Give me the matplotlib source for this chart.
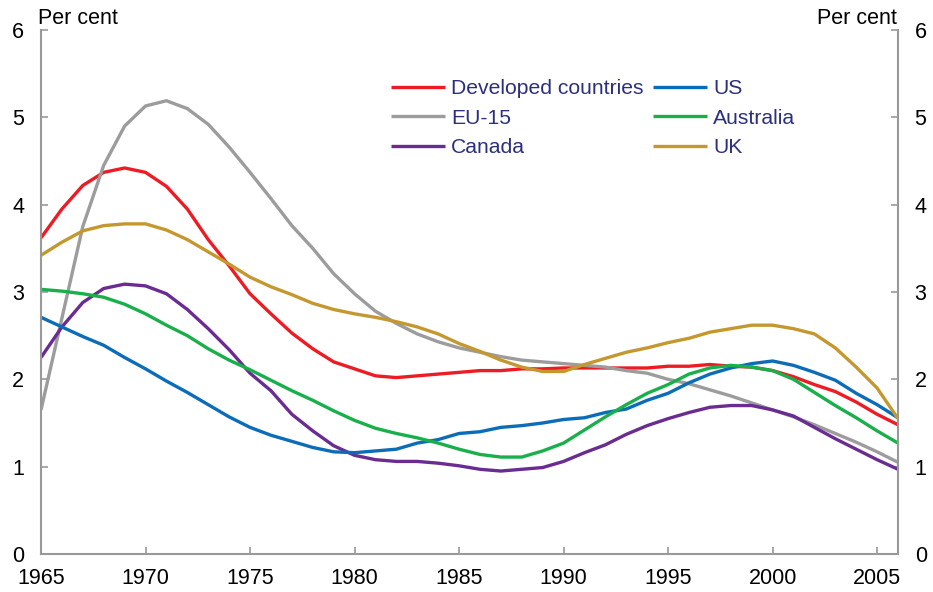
import matplotlib
matplotlib.use("Agg")
import matplotlib.pyplot as plt
import numpy as np

plt.rcParams["font.family"] = ["Liberation Sans", "DejaVu Sans"]

years = np.arange(1965, 2007)

developed = [3.62, 3.95, 4.22, 4.37, 4.42, 4.37, 4.21, 3.95, 3.60, 3.30,
             2.98, 2.75, 2.53, 2.35, 2.20, 2.12, 2.04, 2.02, 2.04, 2.06,
             2.08, 2.10, 2.10, 2.12, 2.12, 2.13, 2.13, 2.13, 2.13, 2.13,
             2.15, 2.15, 2.17, 2.15, 2.14, 2.10, 2.03, 1.94, 1.86, 1.74,
             1.60, 1.48]
eu15 = [1.65, 2.70, 3.75, 4.45, 4.90, 5.13, 5.19, 5.10, 4.92, 4.66,
        4.37, 4.07, 3.76, 3.50, 3.21, 2.98, 2.78, 2.64, 2.52, 2.43,
        2.36, 2.31, 2.26, 2.22, 2.20, 2.18, 2.16, 2.14, 2.10, 2.07,
        2.00, 1.95, 1.88, 1.81, 1.73, 1.65, 1.57, 1.48, 1.38, 1.28,
        1.17, 1.05]
canada = [2.25, 2.60, 2.88, 3.04, 3.09, 3.07, 2.98, 2.80, 2.58, 2.34,
          2.07, 1.87, 1.60, 1.41, 1.24, 1.13, 1.08, 1.06, 1.06, 1.04,
          1.01, 0.97, 0.95, 0.97, 0.99, 1.06, 1.16, 1.25, 1.37, 1.47,
          1.55, 1.62, 1.68, 1.70, 1.70, 1.65, 1.58, 1.45, 1.32, 1.20,
          1.08, 0.97]
us = [2.71, 2.60, 2.49, 2.39, 2.25, 2.12, 1.98, 1.85, 1.71, 1.57,
      1.45, 1.36, 1.29, 1.22, 1.17, 1.16, 1.18, 1.20, 1.27, 1.31,
      1.38, 1.40, 1.45, 1.47, 1.50, 1.54, 1.56, 1.62, 1.66, 1.76,
      1.84, 1.96, 2.06, 2.13, 2.18, 2.21, 2.16, 2.08, 1.99, 1.84,
      1.71, 1.56]
australia = [3.03, 3.01, 2.98, 2.94, 2.86, 2.75, 2.62, 2.50, 2.35, 2.22,
             2.11, 1.99, 1.87, 1.76, 1.64, 1.53, 1.44, 1.38, 1.33, 1.27,
             1.20, 1.14, 1.11, 1.11, 1.18, 1.27, 1.42, 1.57, 1.71, 1.84,
             1.94, 2.06, 2.13, 2.16, 2.14, 2.10, 2.00, 1.85, 1.70, 1.56,
             1.41, 1.27]
uk = [3.42, 3.57, 3.70, 3.76, 3.78, 3.78, 3.71, 3.60, 3.46, 3.32,
      3.17, 3.06, 2.97, 2.87, 2.80, 2.75, 2.71, 2.66, 2.60, 2.52,
      2.41, 2.32, 2.22, 2.14, 2.09, 2.09, 2.17, 2.24, 2.31, 2.36,
      2.42, 2.47, 2.54, 2.58, 2.62, 2.62, 2.58, 2.52, 2.36, 2.14,
      1.90, 1.55]

series = [
    ("Developed countries", developed, "#ed1c24"),
    ("EU-15", eu15, "#9c9c9c"),
    ("Canada", canada, "#6a2c91"),
    ("US", us, "#0b6cb8"),
    ("Australia", australia, "#19b04b"),
    ("UK", uk, "#c4982f"),
]

fig = plt.figure(figsize=(9.33, 5.92), dpi=100)
ax = fig.add_axes([41 / 933, 1 - 554 / 592, (898 - 41) / 933, (554 - 30) / 592])

for label, vals, color in series:
    ax.plot(years, vals, color=color, lw=2.4, label=label, solid_capstyle="butt")

ax.set_xlim(1965, 2006)
ax.set_ylim(0, 6)
ax.set_xticks(np.arange(1965, 2006, 5))
ax.set_yticks(np.arange(0, 7, 1))

spine_col = "#999999"
for side in ["left", "right", "bottom"]:
    ax.spines[side].set_color(spine_col)
    ax.spines[side].set_linewidth(1.5)
ax.spines["top"].set_visible(False)

ax.tick_params(axis="both", direction="in", length=5, width=1.2, color=spine_col,
               labelsize=15.5, labelcolor="black")
ax.tick_params(axis="y", right=True, labelright=True, pad=12)
ax.tick_params(axis="x", pad=10)

fig.text(38 / 933, 1 - 18 / 592, "Per cent", fontsize=15.5, ha="left", va="center")
fig.text(897 / 933, 1 - 18 / 592, "Per cent", fontsize=15.5, ha="right", va="center")

leg = ax.legend(ncol=2, loc="upper left", bbox_to_anchor=(391 / 933, 1 - 79 / 592),
                bbox_transform=fig.transFigure, frameon=False, fontsize=15.2,
                handlelength=2.55, handletextpad=0.3, columnspacing=0.45,
                labelspacing=0.5, borderaxespad=0, borderpad=0)
for t in leg.get_texts():
    t.set_color("#2b2f7e")

fig.savefig("out.png", dpi=100)
